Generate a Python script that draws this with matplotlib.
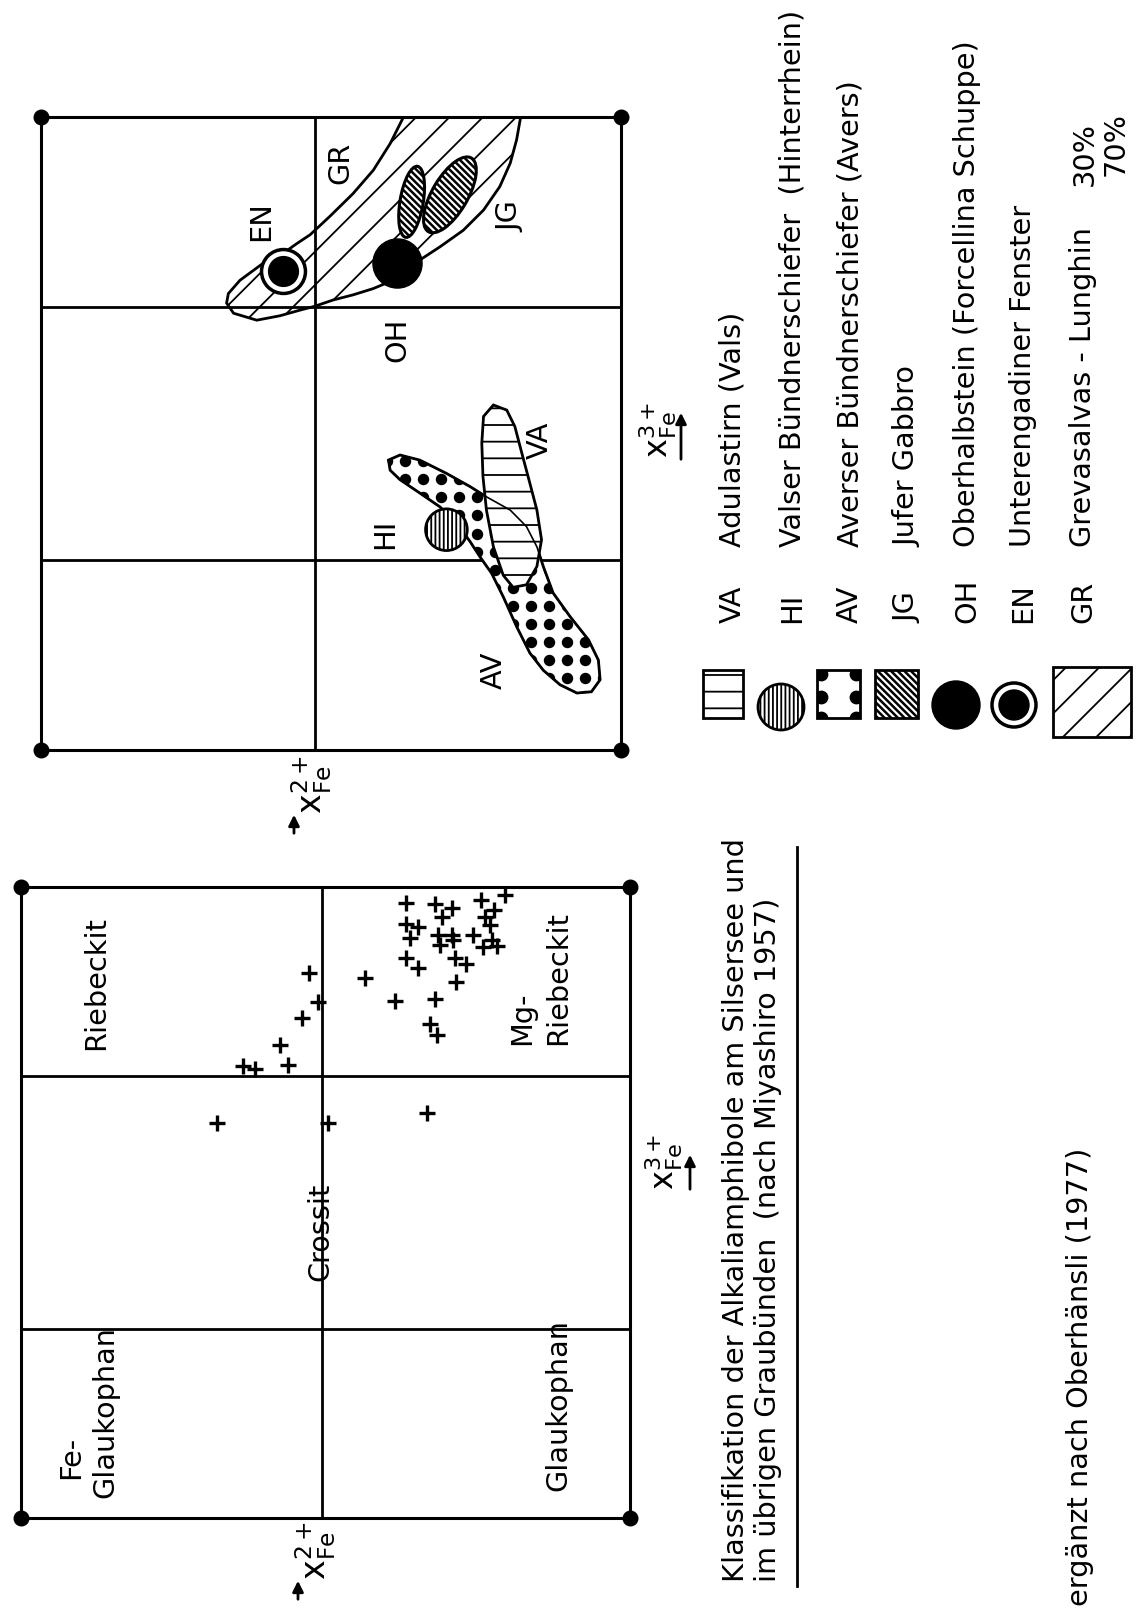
import matplotlib.pyplot as plt
import numpy as np
from matplotlib.patches import Polygon, Ellipse, Rectangle, Circle

plt.rcParams['font.family'] = ['DejaVu Sans']
plt.rcParams['mathtext.fontset'] = 'dejavusans'
plt.rcParams['hatch.linewidth'] = 1.3

W, H = 1144, 1619
FS = 20.7

# ---- left diagram (Miyashiro 1957): class boundaries and analysed amphiboles
fe3_bounds = [0.3, 0.7]
fe2_bound_left = 0.505
fe2_bound_right = 0.528

cross_fe2 = [0.367, 0.320, 0.293, 0.244, 0.205, 0.309, 0.224, 0.238, 0.230, 0.227,
             0.241, 0.219, 0.367, 0.348, 0.361, 0.315, 0.293, 0.290, 0.312, 0.257,
             0.367, 0.348, 0.287, 0.269, 0.285, 0.435, 0.386, 0.320, 0.328, 0.317,
             0.527, 0.513, 0.539, 0.575, 0.561, 0.635, 0.616, 0.678, 0.496, 0.333]
cross_fe3 = [0.974, 0.973, 0.966, 0.979, 0.987, 0.953, 0.964, 0.952, 0.940, 0.916,
             0.905, 0.906, 0.942, 0.937, 0.919, 0.924, 0.924, 0.916, 0.908, 0.924,
             0.887, 0.871, 0.887, 0.878, 0.850, 0.855, 0.819, 0.822, 0.783, 0.765,
             0.864, 0.818, 0.792, 0.749, 0.718, 0.716, 0.711, 0.626, 0.626, 0.642]

# class names, centred
field_names = ['Riebeckit', 'Crossit', 'Glaukophan']
field_fe2 = [0.877, 0.509, 0.118]
field_fe3 = [0.848, 0.453, 0.179]
# lines of the two-line class names, anchored at their start
line_names = ['Fe-', 'Glaukophan', 'Mg-', 'Riebeckit']
line_fe2 = [0.918, 0.862, 0.177, 0.118]
line_fe3 = [0.062, 0.032, 0.750, 0.750]

# ---- right diagram: outlines of the sample fields
va_fe2 = [0.220, 0.197, 0.183, 0.171, 0.157, 0.145, 0.137, 0.145, 0.163, 0.186,
          0.203, 0.220, 0.232, 0.238, 0.240, 0.237]
va_fe3 = [0.545, 0.537, 0.511, 0.469, 0.421, 0.379, 0.332, 0.290, 0.261, 0.257,
          0.276, 0.321, 0.379, 0.432, 0.485, 0.527]

av_fe2 = [0.401, 0.381, 0.347, 0.301, 0.260, 0.232, 0.191, 0.163, 0.145, 0.134,
          0.117, 0.088, 0.056, 0.039, 0.036, 0.051, 0.076, 0.105, 0.134, 0.157,
          0.180, 0.203, 0.223, 0.243, 0.260, 0.283, 0.312, 0.347, 0.381, 0.398]
av_fe3 = [0.458, 0.466, 0.458, 0.437, 0.416, 0.400, 0.379, 0.353, 0.321, 0.290,
          0.248, 0.211, 0.174, 0.142, 0.111, 0.092, 0.090, 0.103, 0.126, 0.153,
          0.195, 0.242, 0.279, 0.305, 0.329, 0.358, 0.384, 0.406, 0.427, 0.442]

gr_fe2 = [0.375, 0.398, 0.427, 0.462, 0.502, 0.536, 0.559, 0.582, 0.617, 0.657,
          0.677, 0.680, 0.668, 0.628, 0.588, 0.553, 0.528, 0.496, 0.462, 0.427,
          0.393, 0.347, 0.312, 0.272, 0.237, 0.209, 0.191, 0.180, 0.173]
gr_fe3 = [1.0, 0.958, 0.916, 0.879, 0.843, 0.814, 0.800, 0.785, 0.769, 0.742,
          0.721, 0.706, 0.690, 0.679, 0.686, 0.695, 0.701, 0.711, 0.719, 0.729,
          0.742, 0.774, 0.795, 0.821, 0.853, 0.890, 0.927, 0.964, 1.0]

# JG: two small fields (centre fe2, centre fe3, length, width, angle)
jg_fields = [(0.361, 0.866, 0.114, 0.040, 100.5),
             (0.295, 0.877, 0.138, 0.060, 123.4)]

hi_pt = (0.301, 0.348)
oh_pt = (0.387, 0.769)
en_pt = (0.582, 0.756)

code_names = ['EN', 'GR', 'JG', 'OH', 'VA', 'HI', 'AV']
code_fe2 = [0.621, 0.484, 0.191, 0.386, 0.140, 0.407, 0.220]
code_fe3 = [0.835, 0.927, 0.843, 0.648, 0.490, 0.342, 0.126]

legend_codes = ['VA', 'HI', 'AV', 'JG', 'OH', 'EN', 'GR']
legend_texts = ['Adulastirn (Vals)',
                'Valser Bündnerschiefer  (Hinterrhein)',
                'Averser Bündnerschiefer (Avers)',
                'Jufer Gabbro',
                'Oberhalbstein (Forcellina Schuppe)',
                'Unterengadiner Fenster',
                'Grevasalvas - Lunghin']

caption = ('Klassifikation der Alkaliamphibole am Silsersee und\n'
           'im übrigen Graubünden  (nach Miyashiro 1957)')
source = 'ergänzt nach Oberhänsli (1977)'


fig = plt.figure(figsize=(W / 100, H / 100), dpi=100)
fig.patch.set_facecolor('white')

# overlay in pixel units for labels outside the diagrams and the key
ov = fig.add_axes([0, 0, 1, 1])
ov.set_xlim(0, W)
ov.set_ylim(H, 0)
ov.axis('off')


def make_panel(left, top, right, bottom, fe2_bound):
    ax = fig.add_axes([left / W, 1 - bottom / H, (right - left) / W, (bottom - top) / H])
    ax.set_xlim(1, 0)
    ax.set_ylim(0, 1)
    ax.set_xticks([])
    ax.set_yticks([])
    ax.patch.set_alpha(0)
    for s in ax.spines.values():
        s.set_linewidth(2.2)
    ax.axvline(fe2_bound, color='k', lw=2)
    for b in fe3_bounds:
        ax.axhline(b, color='k', lw=2)
    ax.scatter([0, 1, 0, 1], [0, 0, 1, 1], s=110, color='k', zorder=10, clip_on=False)
    return ax


def vtext(ax, x, y, s, **kw):
    kw.setdefault('ha', 'center')
    kw.setdefault('va', 'center')
    ax.text(x, y, s, rotation=90, fontsize=kw.pop('fontsize', FS), **kw)


# ---- left diagram
axL = make_panel(21, 887, 630, 1518, fe2_bound_left)
axL.scatter(cross_fe2, cross_fe3, marker='+', s=120, linewidths=2.4, color='k', zorder=5)
for n, x, y in zip(field_names, field_fe2, field_fe3):
    vtext(axL, x, y, n)
for n, x, y in zip(line_names, line_fe2, line_fe3):
    vtext(axL, x, y, n, va='bottom')

# ---- right diagram
axR = make_panel(41, 117, 621, 750, fe2_bound_right)

av = Polygon(np.column_stack([av_fe2, av_fe3]), closed=True, facecolor='white',
             edgecolor='k', lw=2, zorder=2)
axR.add_patch(av)
# dot texture of the AV field
gx, gy = np.meshgrid(np.arange(0.0, 0.45, 0.031), np.arange(0.0, 0.5, 0.0285))
dots = axR.scatter(gx.ravel(), gy.ravel(), s=52, color='k', zorder=3)
dots.set_clip_path(av)

va = Polygon(np.column_stack([va_fe2, va_fe3]), closed=True, facecolor='white',
             edgecolor='k', lw=2, hatch='-', zorder=4)
axR.add_patch(va)
axR.add_patch(Polygon(np.column_stack([av_fe2, av_fe3]), closed=True, fill=False,
                      edgecolor='k', lw=1.2, zorder=4.5))

gr = Polygon(np.column_stack([gr_fe2, gr_fe3]), closed=True, facecolor='none',
             edgecolor='k', lw=2, hatch='/', zorder=4)
axR.add_patch(gr)
with plt.rc_context({'hatch.linewidth': 1.8}):
    for cx, cy, ln, wd, ang in jg_fields:
        axR.add_patch(Ellipse((cx, cy), ln, wd, angle=ang, facecolor='white',
                              edgecolor='k', lw=2.2, hatch='\\\\\\\\\\', zorder=5))

axR.scatter([hi_pt[0]], [hi_pt[1]], s=900, facecolor='white', edgecolor='k',
            linewidths=2, hatch='||||', zorder=6)
axR.scatter([oh_pt[0]], [oh_pt[1]], s=1250, color='k', zorder=6)
axR.scatter([en_pt[0]], [en_pt[1]], s=1000, facecolor='white', edgecolor='k',
            linewidths=2.5, zorder=6)
axR.scatter([en_pt[0]], [en_pt[1]], s=460, color='k', zorder=7)

for n, x, y in zip(code_names, code_fe2, code_fe3):
    vtext(axR, x, y, n, zorder=8)

# ---- axis labels
lab2 = r'$\mathregular{x_{Fe}^{2+}}$'
lab3 = r'$\mathregular{x_{Fe}^{3+}}$'
vtext(ov, 312, 755, lab2, va='top', fontsize=24)
vtext(ov, 316, 1521, lab2, va='top', fontsize=24)
vtext(ov, 658, 430, lab3, fontsize=23)
vtext(ov, 664, 1162, lab3, fontsize=23)
arrow = dict(arrowstyle='-|>', lw=2, color='k', mutation_scale=16)
ov.annotate('', xy=(681, 410), xytext=(681, 462), arrowprops=arrow)
ov.annotate('', xy=(690, 1152), xytext=(690, 1192), arrowprops=arrow)
ov.annotate('', xy=(294, 812), xytext=(294, 836), arrowprops=arrow)
ov.annotate('', xy=(298, 1578), xytext=(298, 1602), arrowprops=arrow)

# ---- caption
vtext(ov, 752, 1582, caption, va='bottom', multialignment='left', linespacing=1.15)
ov.plot([797, 797], [847, 1586], color='k', lw=2)
vtext(ov, 1080, 1606, source, va='bottom')

# ---- key
key_x = [733, 792, 850, 907, 967, 1023, 1083]
for x, c, t in zip(key_x, legend_codes, legend_texts):
    vtext(ov, x, 623, c, va='bottom')
    vtext(ov, x, 547, t, va='bottom')
vtext(ov, 1085, 186, '30%', va='bottom')
vtext(ov, 1116, 176, '70%', va='bottom')

ov.add_patch(Rectangle((703, 670), 40, 48, facecolor='white', edgecolor='k', lw=2, hatch='-'))
ov.add_patch(Circle((781, 707), 23, facecolor='white', edgecolor='k', lw=2, hatch='||||'))
av_box = Rectangle((817, 670), 43, 48, facecolor='white', edgecolor='k', lw=2)
ov.add_patch(av_box)
kx, ky = np.meshgrid([821, 856], [674, 697, 718])
kd = ov.scatter(kx.ravel(), ky.ravel(), s=80, color='k')
kd.set_clip_path(av_box)
with plt.rc_context({'hatch.linewidth': 1.8}):
    ov.add_patch(Rectangle((875, 670), 43, 48, facecolor='white', edgecolor='k', lw=2,
                           hatch='\\\\\\\\\\'))
ov.add_patch(Circle((956, 705), 24, color='k'))
ov.add_patch(Circle((1014, 705), 22, facecolor='white', edgecolor='k', lw=2.5))
ov.add_patch(Circle((1014, 705), 15, color='k'))
ov.add_patch(Rectangle((1053, 667), 78, 70, facecolor='white', edgecolor='k', lw=2, hatch='/'))

fig.savefig('out.png', dpi=100)
